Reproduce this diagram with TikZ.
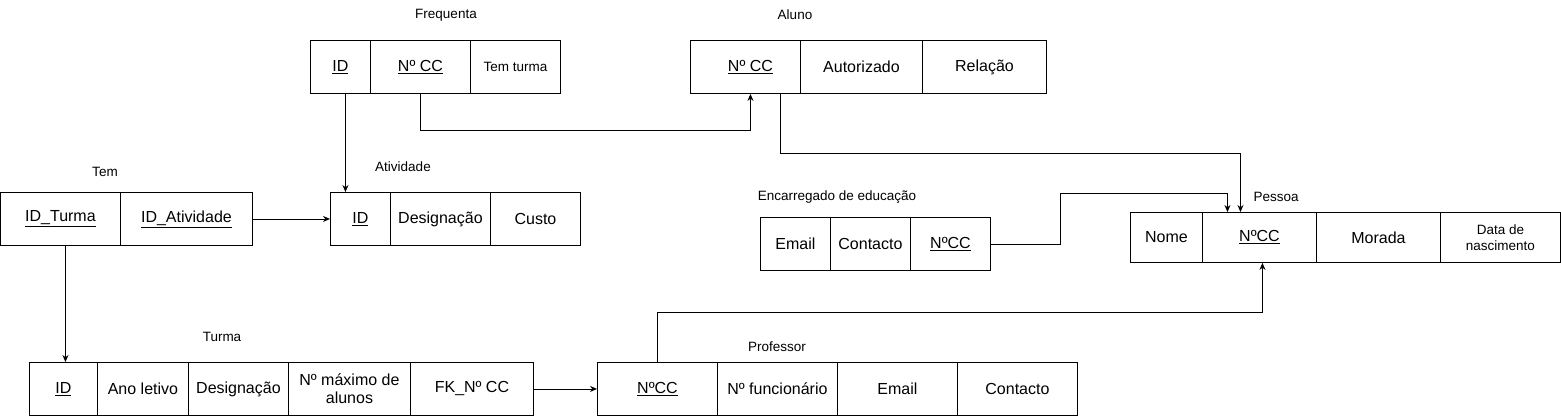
\documentclass[tikz,border=0pt]{standalone}
\usepackage{fontspec}
\setmainfont{Liberation Sans}
\usetikzlibrary{arrows.meta}
\newcommand\cellfont{\fontsize{16}{18}\selectfont}
\newcommand\smallcellfont{\fontsize{13.5}{16}\selectfont}
\newcommand\titlefont{\fontsize{13.5}{15}\selectfont}
\tikzset{
  cell/.style={draw, line width=0.9pt, minimum height=53, inner sep=0pt, anchor=north west, font=\cellfont, align=center},
  title/.style={font=\titlefont, inner sep=0pt},
  arr/.style={line width=0.9pt, -{Stealth[length=7pt,width=6pt]}}
}
\begin{document}
\begin{tikzpicture}[x=1pt,y=-1pt]
\useasboundingbox (0,0) rectangle (1561,416);
% Frequenta
\node[title] (tFreq) at (446,15) {Frequenta};
\node[cell, minimum width=60] (fID) at (310,40) {\underline{ID}};
\node[cell, minimum width=100] (fCC) at (370,40) {\underline{Nº CC}};
\node[cell, minimum width=90, font=\smallcellfont] (fTT) at (470,40) {Tem turma};
% Aluno
\node[title] (tAluno) at (795,15) {Aluno};
\node[cell, minimum width=110] (aCC) at (690,40) {\hspace*{10pt}\underline{Nº CC}};
\node[cell, minimum width=122] (aAut) at (800,40) {Autorizado};
\node[cell, minimum width=124] (aRel) at (922,40) {Relação};
% Tem
\node[title] (tTem) at (105,172) {Tem};
\node[cell, minimum width=120] (tT) at (0,192) {\underline{ID\_Turma}};
\node[cell, minimum width=132] (tA) at (120,192) {\underline{ID\_Atividade}};
% Atividade
\node[title] (tAtiv) at (403,167) {Atividade};
\node[cell, minimum width=60] (atID) at (330,192) {\underline{ID}};
\node[cell, minimum width=100] (atDes) at (390,192) {Designação};
\node[cell, minimum width=90] (atCus) at (490,192) {Custo};
% Encarregado de educacao
\node[title] (tEnc) at (837,197) {Encarregado de educação};
\node[cell, minimum width=70] (eEm) at (760,217) {Email};
\node[cell, minimum width=80] (eCon) at (830,217) {Contacto};
\node[cell, minimum width=80] (eCC) at (910,217) {\underline{NºCC}};
% Pessoa
\node[title] (tPes) at (1276,197) {Pessoa};
\node[cell, minimum width=72, minimum height=50] (pNome) at (1130,212) {Nome};
\node[cell, minimum width=114, minimum height=50] (pCC) at (1202,212) {\underline{NºCC}};
\node[cell, minimum width=124, minimum height=50] (pMor) at (1316,212) {Morada};
\node[cell, minimum width=120, minimum height=50, font=\smallcellfont] (pDat) at (1440,212) {Data de\\nascimento};
% Turma
\node[title] (tTur) at (222,337) {Turma};
\node[cell, minimum width=68] (trID) at (29,362) {\underline{ID}};
\node[cell, minimum width=91] (trAno) at (97,362) {Ano letivo};
\node[cell, minimum width=100] (trDes) at (188,362) {Designação};
\node[cell, minimum width=122] (trMax) at (288,362) {Nº máximo de\\alunos};
\node[cell, minimum width=123] (trFK) at (410,362) {FK\_Nº CC};
% Professor
\node[title] (tProf) at (777,347) {Professor};
\node[cell, minimum width=120] (prCC) at (597,362) {\underline{NºCC}};
\node[cell, minimum width=120] (prNF) at (717,362) {Nº funcionário};
\node[cell, minimum width=120] (prEm) at (837,362) {Email};
\node[cell, minimum width=120] (prCon) at (957,362) {Contacto};
% connectors
\draw[arr] ([xshift=5pt]fID.south) -- ([xshift=5pt]fID.south |- atID.north);
\draw[arr] (fCC.south) |- ([xshift=5pt,yshift=-37pt]aCC.south) -- ([xshift=5pt]aCC.south);
\draw[arr] ([xshift=35pt]aCC.south) -- ++(0,60) -| ([xshift=-19pt]pCC.north);
\draw[arr] (eCC.east) -- ++(70,0) |- ([xshift=-32pt,yshift=19pt]pCC.north) -- ([xshift=-32pt]pCC.north);
\draw[arr] (tA.east) -- (atID.west);
\draw[arr] ([xshift=5pt]tT.south) -- ([xshift=5pt]tT.south |- trID.north);
\draw[arr] (trFK.east) -- (prCC.west);
\draw[arr] (prCC.north) -- ++(0,-50) -| ([xshift=3pt]pCC.south);
\end{tikzpicture}
\end{document}
